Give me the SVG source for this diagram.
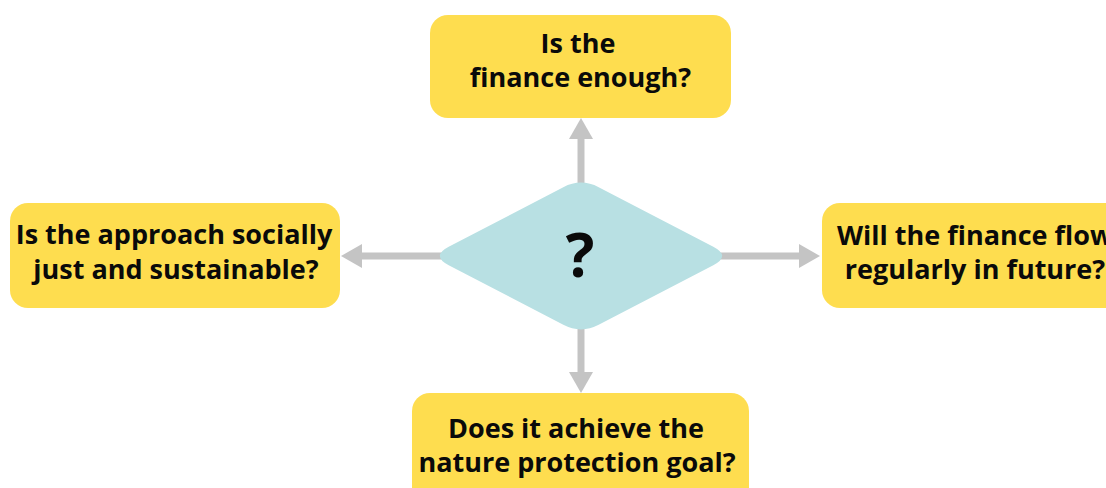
<svg xmlns="http://www.w3.org/2000/svg" width="1106" height="488" viewBox="0 0 1106 488">
  <style>
    .box { fill: #FEDD4F; }
    .dia { fill: #B8E0E3; }
    .lbl { font-family: "Open Sans", "Liberation Sans", sans-serif; font-weight: 700; font-size: 27px; fill: #0a0a0a; text-anchor: middle; }
    .q { font-family: "Open Sans", "Liberation Sans", sans-serif; font-weight: 700; font-size: 60px; fill: #0a0a0a; text-anchor: middle; }
    .conn { stroke: #C4C4C4; stroke-width: 7; fill: none; marker-end: url(#ah); }
  </style>
  <defs>
    <marker id="ah" markerUnits="userSpaceOnUse" markerWidth="22" markerHeight="24" refX="0" refY="12" orient="auto" overflow="visible">
      <path d="M0,0 L21,12 L0,24 Z" fill="#C4C4C4"/>
    </marker>
  </defs>
  <rect width="1106" height="488" fill="#ffffff"/>
  <g id="connectors">
    <line class="conn" x1="581" y1="190" x2="581" y2="139"/>
    <line class="conn" x1="450" y1="256" x2="362" y2="256"/>
    <line class="conn" x1="712" y1="256" x2="799" y2="256"/>
    <line class="conn" x1="581" y1="320" x2="581" y2="372"/>
  </g>
  <g id="center">
    <path class="dia" d="M448.7,246.8 L563.3,187.2 Q581,178 598.7,187.2 L713.3,246.8 Q731,256 713.3,265.2 L598.7,324.8 Q581,334 563.3,324.8 L448.7,265.2 Q431,256 448.7,246.8 Z"/>
    <text class="q" x="580" y="277">?</text>
  </g>
  <g id="top">
    <rect class="box" x="430" y="15" width="301" height="103" rx="18"/>
    <text class="lbl" x="578" y="53">Is the</text>
    <text class="lbl" x="580.5" y="87">finance enough?</text>
  </g>
  <g id="left">
    <rect class="box" x="10" y="203" width="330" height="105" rx="18"/>
    <text class="lbl" x="174" y="244">Is the approach socially</text>
    <text class="lbl" x="176" y="279">just and sustainable?</text>
  </g>
  <g id="right">
    <rect class="box" x="822" y="203" width="330" height="105" rx="18"/>
    <text class="lbl" x="975" y="245">Will the finance flow</text>
    <text class="lbl" x="975" y="279">regularly in future?</text>
  </g>
  <g id="bottom">
    <rect class="box" x="412" y="393" width="337" height="120" rx="18"/>
    <text class="lbl" x="576" y="438">Does it achieve the</text>
    <text class="lbl" x="577" y="472">nature protection goal?</text>
  </g>
</svg>
